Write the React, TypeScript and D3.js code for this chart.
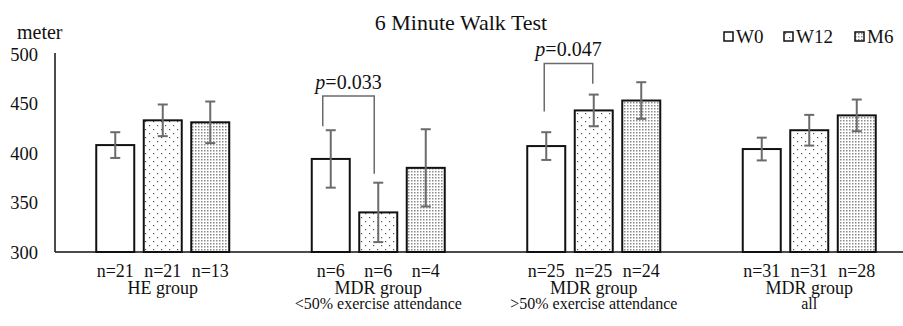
import React from "react";
import * as d3 from "d3";

const groups = ["HE", "MDR<50", "MDR>50", "MDRall"];
const groupLine1 = ["HE group", "MDR group", "MDR group", "MDR group"];
const groupLine2 = ["", "<50% exercise attendance", ">50% exercise attendance", "all"];
const series = ["W0", "W12", "M6"];
const means = [
  [408, 433, 431],
  [394, 340, 385],
  [407, 443, 453],
  [404, 423, 438],
];
const errs = [
  [13, 16, 21],
  [29, 30, 39],
  [14, 16, 18.5],
  [11.5, 15.5, 16],
];
const nLabels = [
  ["n=21", "n=21", "n=13"],
  ["n=6", "n=6", "n=4"],
  ["n=25", "n=25", "n=24"],
  ["n=31", "n=31", "n=28"],
];
const yTicks = [300, 350, 400, 450, 500];
const brackets = [
  { group: "MDR<50", from: "W0", to: "W12", top: 457.5, leftEnd: 427, rightEnd: 379, label: "0.033", dx: -8 },
  { group: "MDR>50", from: "W0", to: "W12", top: 490.5, leftEnd: 442, rightEnd: 470, label: "0.047", dx: -2 },
];

const W = 903;
const H = 326;
const FONT = "Liberation Serif, Times New Roman, serif";

export default function App() {
  const y = d3.scaleLinear().domain([300, 500]).range([252, 54]);
  const x0 = d3.scaleBand<string>().domain(groups).range([55, 917]).padding(0);
  const inner = 142.5;
  const x1 = d3.scaleBand<string>().domain(series).range([0, inner]).paddingInner(0.2).paddingOuter(0.1);
  const gx = (g: string) => (x0(g) as number) + x0.bandwidth() / 2 - inner / 2;
  const barX = (g: string, s: string) => gx(g) + (x1(s) as number);
  const barC = (g: string, s: string) => barX(g, s) + x1.bandwidth() / 2;
  const fills: Record<string, string> = { W0: "#fff", W12: "url(#sparse)", M6: "url(#dense)" };
  const errColor = "#6b6b6b";

  return (
    <svg width={W} height={H} style={{ position: "absolute", left: 0, top: 0, background: "#fff", fontFamily: FONT }}>
      <defs>
        <pattern id="sparse" patternUnits="userSpaceOnUse" width="8" height="8">
          <rect width="8" height="8" fill="#fff" />
          <rect x="1" y="1" width="1.2" height="1.2" fill="#555" />
          <rect x="5" y="5" width="1.2" height="1.2" fill="#555" />
        </pattern>
        <pattern id="dense" patternUnits="userSpaceOnUse" width="3" height="3">
          <rect width="3" height="3" fill="#fff" />
          <rect x="0" y="0" width="1.5" height="1.5" fill="#8a8a8a" />
        </pattern>
      </defs>
      <rect width={W} height={H} fill="#fff" />
      <text x={461} y={30} textAnchor="middle" fontSize={22} fill="#111">6 Minute Walk Test</text>
      <text x={17} y={39} fontSize={20} fill="#111">meter</text>
      {yTicks.map((t) => (
        <text key={t} x={38} y={y(t) + 6.5} textAnchor="end" fontSize={18.5} fill="#111">{t}</text>
      ))}
      {/* legend */}
      {series.map((s, i) => {
        const lx = [724, 784, 855][i];
        return (
          <g key={s}>
            <rect x={lx} y={32} width={9} height={9} fill={fills[s]} stroke="#111" strokeWidth={1.5} />
            <text x={lx + 12} y={43} fontSize={19} fill="#111">{s}</text>
          </g>
        );
      })}
      {/* bars */}
      {groups.map((g, gi) =>
        series.map((s, si) => (
          <rect
            key={g + s}
            x={barX(g, s)}
            y={y(means[gi][si])}
            width={x1.bandwidth()}
            height={y(300) - y(means[gi][si])}
            fill={fills[s]}
            stroke="#111"
            strokeWidth={2}
          />
        ))
      )}
      {/* error bars */}
      {groups.map((g, gi) =>
        series.map((s, si) => {
          const cx = barC(g, s);
          const hi = y(means[gi][si] + errs[gi][si]);
          const lo = y(means[gi][si] - errs[gi][si]);
          return (
            <g key={"e" + g + s} stroke={errColor} strokeWidth={2}>
              <line x1={cx} x2={cx} y1={hi} y2={lo} />
              <line x1={cx - 5} x2={cx + 5} y1={hi} y2={hi} />
              <line x1={cx - 5} x2={cx + 5} y1={lo} y2={lo} />
            </g>
          );
        })
      )}
      {/* axes */}
      <line x1={55} x2={55} y1={y(500) - 1} y2={y(300)} stroke="#111" strokeWidth={1.5} />
      <line x1={55} x2={917} y1={y(300)} y2={y(300)} stroke="#111" strokeWidth={1.5} />
      {/* brackets */}
      {brackets.map((b) => {
        const lx = barC(b.group, b.from) + b.dx;
        const rx = barC(b.group, b.to) + b.dx / 2;
        const ty = y(b.top);
        return (
          <g key={b.label}>
            <path
              d={`M${lx},${y(b.leftEnd)}V${ty}H${rx}V${y(b.rightEnd)}`}
              fill="none"
              stroke={errColor}
              strokeWidth={1.5}
            />
            <text x={(lx + rx) / 2} y={ty - 7} textAnchor="middle" fontSize={20} fill="#111">
              <tspan fontStyle="italic">p</tspan>={b.label}
            </text>
          </g>
        );
      })}
      {/* category labels */}
      {groups.map((g, gi) => (
        <g key={"l" + g}>
          {series.map((s, si) => (
            <text key={s} x={barC(g, s)} y={276.5} textAnchor="middle" fontSize={18} fill="#111">
              {nLabels[gi][si]}
            </text>
          ))}
          <text x={barC(g, "W12")} y={293.5} textAnchor="middle" fontSize={18} fill="#111">{groupLine1[gi]}</text>
          {groupLine2[gi] && (
            <text x={barC(g, "W12")} y={309} textAnchor="middle" fontSize={16} fill="#111">{groupLine2[gi]}</text>
          )}
        </g>
      ))}
    </svg>
  );
}
